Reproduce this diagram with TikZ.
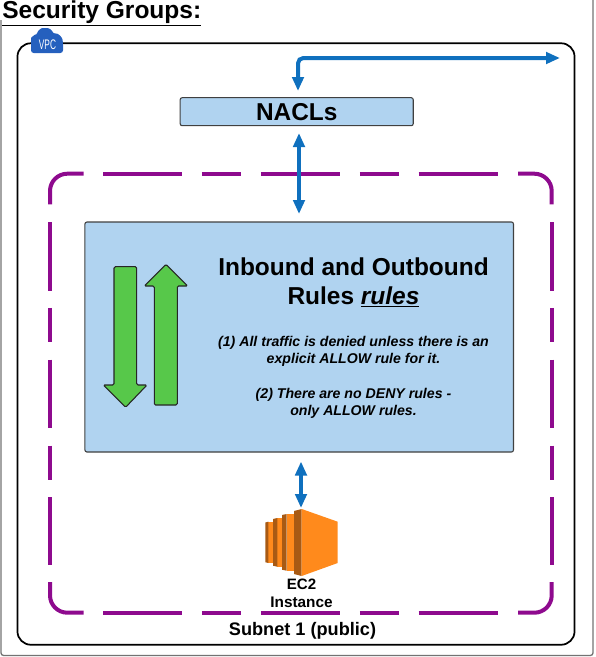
\documentclass[tikz,border=0pt]{standalone}
\usepackage{fontspec}
\setmainfont{Liberation Sans}
\usetikzlibrary{positioning,arrows.meta,shapes}
\definecolor{vpcblue}{HTML}{2560BE}
\definecolor{linkblue}{HTML}{0F70BE}
\definecolor{subnetpurple}{HTML}{8E0A8E}
\definecolor{rulefill}{HTML}{B0D3F0}
\definecolor{arrowgreen}{HTML}{57C84A}
\definecolor{ec2light}{HTML}{FF8A1C}
\definecolor{ec2dark}{HTML}{A85A14}
\tikzset{
    link/.style={draw=linkblue, line width=3pt, {Triangle[length=10.5pt,width=8.5pt]}-{Triangle[length=10.5pt,width=8.5pt]}},
    bluebox/.style={draw=black!75, fill=rulefill, rounded corners=1.5pt, line width=0.8pt, inner sep=0pt},
    greenarrow/.style={draw=black!85, fill=arrowgreen, line width=0.8pt, rounded corners=1pt},
    subnetline/.style={draw=subnetpurple, line width=3pt, rounded corners=13pt},
    subnetwide/.style={subnetline, dash pattern=on 59.6pt off 14.6pt on 29.6pt off 14.6pt},
    subnettall/.style={subnetline, dash pattern=on 51.4pt off 13pt on 25.9pt off 13pt},
}
\begin{document}
\begin{tikzpicture}[x=0.75pt, y=-0.75pt]
        \useasboundingbox (0, 0) rectangle (596, 657);
        \draw[black!55, line width=1pt, rounded corners=2pt] (1, 20) -- (1, 655.5) -- (593, 655.5) -- (593, 0);

        \node[anchor=base west, inner sep=0pt, font=\bfseries\fontsize{18.4}{20}\selectfont] (title) at (2, 18) {\underline{Security Groups:}};

        % VPC and subnet
        \node[draw=black, line width=1.3pt, rounded corners=10pt, minimum width=417.8pt, minimum height=451.1pt] (vpc) at (296, 344) {};
        \draw[subnetline] (50, 204.3) -- (50, 173.7) -- (83.7, 173.7);
        \draw[subnetline] (518, 173.7) -- (551.7, 173.7) -- (551.7, 204.3);
        \draw[subnetline] (50, 582) -- (50, 612.7) -- (83.7, 612.7);
        \draw[subnetline] (518, 612.7) -- (551.7, 612.7) -- (551.7, 582);
        \draw[subnetwide] (103, 173.7) -- (498, 173.7);
        \draw[subnetwide] (103, 612.7) -- (498, 612.7);
        \draw[subnettall] (50, 222) -- (50, 565);
        \draw[subnettall] (551.7, 222) -- (551.7, 565);

        % cloud badge
        \fill[vpcblue, rounded corners=2pt] (31, 53) -- (31, 41) .. controls (31, 37) and (35, 35) .. (37, 35) .. controls (38, 30) and (42, 28) .. (45, 28) .. controls (49, 28) and (52, 30) .. (53, 34) .. controls (58, 33) and (62, 37) .. (63, 42) -- (63, 53) -- cycle;
        \node[white, inner sep=0pt, xscale=0.6, font=\fontsize{10.4}{11}\selectfont] (vpclabel) at (47.5, 45) {VPC};

        % boxes
        \node[bluebox, minimum width=174.8pt, minimum height=21pt] (nacl) at (296.7, 111.7) {\bfseries\fontsize{18.3}{20}\selectfont NACLs};
        \node[bluebox, minimum width=321.4pt, minimum height=172.5pt] (rules) at (299.2, 337) {};

        \node[inner sep=0pt, align=center, font=\bfseries\fontsize{18.35}{22}\selectfont] (heading) at (353.5, 282.5) {Inbound and Outbound\\Rules \underline{\textit{rules}}};
        \node[inner sep=0pt, align=center, font=\bfseries\itshape\fontsize{10.6}{13}\selectfont] (notes) at (353.5, 377.5) {(1) All traffic is denied unless there is an\\explicit ALLOW rule for it.\\[13pt](2) There are no DENY rules -\\only ALLOW rules.};

        % green arrows
        \draw[greenarrow] (114, 266.7) -- (136.7, 266.7) -- (136.7, 385) -- (147, 385) -- (125.6, 407.3) -- (103.3, 385) -- (114, 385) -- cycle;
        \draw[greenarrow] (154.3, 405) -- (177.3, 405) -- (177.3, 286) -- (187.7, 286) -- (166, 264.3) -- (144.3, 286) -- (154.3, 286) -- cycle;

        % EC2
        \fill[ec2light] (268.3, 521.7) -- (273, 521.7) -- (273, 563) -- (268.3, 563) -- cycle;
        \fill[ec2light] (277.3, 518) -- (282, 518) -- (282, 566.7) -- (277.3, 566.7) -- cycle;
        \fill[ec2light] (286.7, 514) -- (294, 514) -- (294, 570.7) -- (286.7, 570.7) -- cycle;
        \fill[ec2dark] (265.3, 522.5) -- (268.3, 521.7) -- (268.3, 563) -- (265.3, 562.2) -- cycle;
        \fill[ec2dark] (273, 519) -- (277.3, 518) -- (277.3, 566.7) -- (273, 565.7) -- cycle;
        \fill[ec2dark] (282, 515) -- (286.7, 514) -- (286.7, 570.7) -- (282, 569.7) -- cycle;
        \fill[ec2dark] (294, 511) -- (301.7, 509) -- (301.7, 576) -- (294, 574) -- cycle;
        \fill[ec2light] (301.7, 509) -- (337.7, 521.7) -- (337.7, 563) -- (301.7, 576) -- cycle;
        \node[inner sep=0pt, font=\bfseries\fontsize{11.3}{13}\selectfont] (ec2) at (301.5, 584) {EC2};
        \node[inner sep=0pt, font=\bfseries\fontsize{11.5}{13}\selectfont] (instance) at (301.5, 602) {Instance};
        \node[inner sep=0pt, font=\bfseries\fontsize{13.6}{15}\selectfont] (subnet) at (302.5, 631) {Subnet 1 (public)};

        % connectors
        \coordinate (exit) at (560, 58);
        \coordinate (naclin) at (298, 91);
        \coordinate (naclout) at (299, 133);
        \coordinate (rulesin) at (299, 214);
        \coordinate (rulesout) at (301, 461.5);
        \coordinate (ec2top) at (301, 508);
        \draw[link, rounded corners=4pt] (naclin) |- (exit);
        \draw[link] (naclout) -- (rulesin);
        \draw[link] (rulesout) -- (ec2top);
    \end{tikzpicture}
\end{document}
